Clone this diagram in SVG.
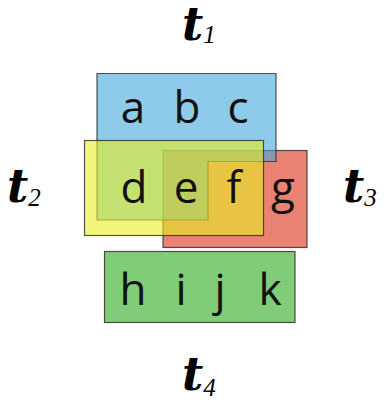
<svg xmlns="http://www.w3.org/2000/svg" width="385" height="407" viewBox="0 0 385 407">
<style>
.box{stroke:#333;stroke-width:1.2;stroke-opacity:0.85}
.el{font-family:"Open Sans","DejaVu Sans",sans-serif;font-size:44px;fill:#111;text-anchor:middle}
.t{font-family:"DejaVu Serif","Liberation Serif",serif;font-style:italic;font-weight:bold;font-size:46px;fill:#000}
.sub{font-family:"Liberation Serif","DejaVu Serif",serif;font-style:italic;font-size:25px;fill:#000}
</style>
<rect width="385" height="407" fill="#fff"/>
<g id="t3set">
<rect class="box" x="163" y="150.5" width="144" height="97" fill="rgb(218,47,22)" fill-opacity="0.6"/>
</g>
<g id="t1set">
<path class="box" d="M97,73.5 H276 V161.5 H208 V220 H97 Z" fill="rgb(67,168,222)" fill-opacity="0.6"/>
</g>
<g id="t2set">
<rect class="box" x="84.5" y="140.5" width="179" height="95" fill="rgb(232,240,33)" fill-opacity="0.6"/>
</g>
<g id="t4set">
<rect class="box" x="104.5" y="251.5" width="190.5" height="71" fill="rgb(43,170,30)" fill-opacity="0.6"/>
</g>
<g id="elements">
<text class="el" x="133" y="123">a</text>
<text class="el" x="187" y="123">b</text>
<text class="el" x="238" y="123">c</text>
<text class="el" x="134" y="203">d</text>
<text class="el" x="186" y="203">e</text>
<text class="el" x="234" y="203">f</text>
<text class="el" x="283" y="203">g</text>
<text class="el" x="133" y="305">h</text>
<text class="el" x="181" y="305">i</text>
<text class="el" x="220" y="305">j</text>
<text class="el" x="270" y="305">k</text>
</g>
<g id="labels">
<text x="182" y="40"><tspan class="t">t</tspan><tspan class="sub" dx="0" dy="3">1</tspan></text>
<text x="7" y="202"><tspan class="t">t</tspan><tspan class="sub" dx="0" dy="4">2</tspan></text>
<text x="343" y="202"><tspan class="t">t</tspan><tspan class="sub" dx="0" dy="4">3</tspan></text>
<text x="182" y="390"><tspan class="t">t</tspan><tspan class="sub" dx="0" dy="6">4</tspan></text>
</g>
</svg>
